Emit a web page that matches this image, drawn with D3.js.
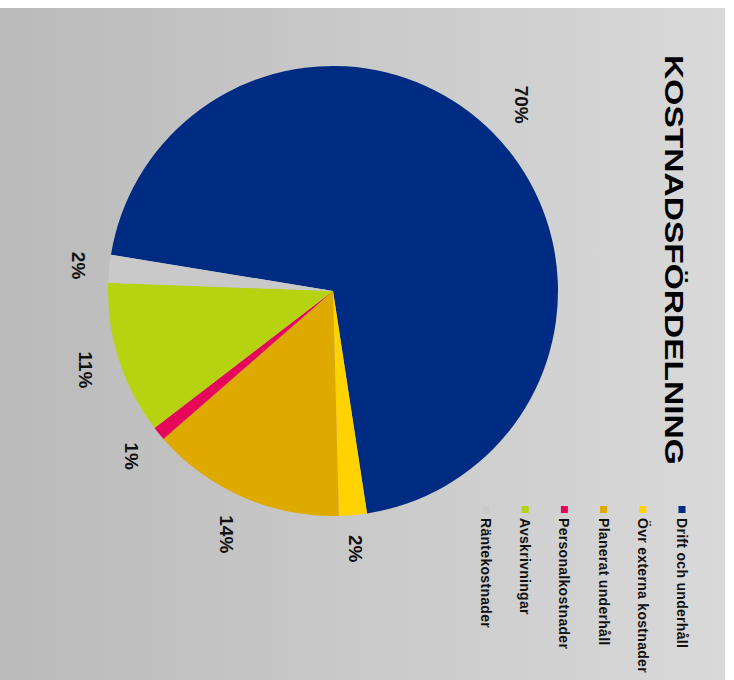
<!DOCTYPE html>
<html>
<head>
<meta charset="utf-8">
<script src="https://cdn.jsdelivr.net/npm/d3@7"></script>
<style>
  body { margin: 0; background: #fff; }
  text { font-family: "Liberation Sans", Arial, sans-serif; }
</style>
</head>
<body>
<div id="container"></div>
<script>
var scene_width = 734, scene_height = 680

// data
var categories = ['Drift och underhåll', 'Övr externa kostnader', 'Planerat underhåll',
                  'Personalkostnader', 'Avskrivningar', 'Räntekostnader']
var values = [70, 2, 14, 1, 11, 2]
var labels = ['70%', '2%', '14%', '1%', '11%', '2%']
var colors = ['#002b82', '#ffd200', '#deaa00', '#e6075a', '#b6d312', '#c9c9c9']
var title = 'KOSTNADSFÖRDELNING'

var center = [333, 291]
var radius = 225

var svg = d3.select('#container').append('svg')
    .attr('width', scene_width)
    .attr('height', scene_height)

var grad = svg.append('defs').append('linearGradient')
    .attr('id', 'bg')
    .attr('x1', '0%').attr('x2', '100%').attr('y1', '0%').attr('y2', '0%')
grad.append('stop').attr('offset', '0%').attr('stop-color', '#bababa')
grad.append('stop').attr('offset', '100%').attr('stop-color', '#d9d9d9')

svg.append('rect')
    .attr('x', 0).attr('y', 8)
    .attr('width', 725).attr('height', scene_height - 8)
    .style('fill', 'url(#bg)')

// pie, the whole picture is turned 90 degrees clockwise
var start = -80.7 * Math.PI / 180
var pie = d3.pie().sort(null).startAngle(start).endAngle(start + 2 * Math.PI)
var arcs = pie(values)
var arc = d3.arc().innerRadius(0).outerRadius(radius)

var g = svg.append('g').attr('transform', 'translate(' + center[0] + ',' + center[1] + ')')

g.selectAll('path.slice')
    .data(arcs)
    .enter().append('path')
    .attr('class', 'slice')
    .attr('d', arc)
    .style('fill', (d, i) => colors[i])

// labels sit outside the pie, pushed out by half their (rotated) box
var gap = 244
g.selectAll('text.pct')
    .data(arcs)
    .enter().append('text')
    .attr('class', 'pct')
    .attr('text-anchor', 'middle')
    .attr('dominant-baseline', 'central')
    .style('font-size', '19px')
    .style('font-weight', 'bold')
    .style('fill', '#111')
    .text((d, i) => labels[i])
    .attr('transform', function(d) {
        var b = this.getBBox()
        var a = (d.startAngle + d.endAngle) / 2
        var ux = Math.sin(a), uy = -Math.cos(a)
        // rotated box: screen width = b.height, screen height = b.width
        var r = gap + Math.abs(ux) * b.height / 2 + Math.abs(uy) * b.width / 2
        return 'translate(' + (ux * r) + ',' + (uy * r) + ') rotate(90)'
    })

// title
svg.append('text')
    .attr('transform', 'translate(674,260) rotate(90) scale(1.29,1)')
    .attr('text-anchor', 'middle')
    .attr('dominant-baseline', 'central')
    .style('font-size', '26px')
    .style('font-weight', 'bold')
    .style('fill', '#000')
    .text(title)

// legend
var legend = svg.append('g')
var item = legend.selectAll('g.item')
    .data(categories)
    .enter().append('g')
    .attr('class', 'item')
    .attr('transform', (d, i) => 'translate(' + (682 - i * 39.2) + ',0)')

item.append('rect')
    .attr('x', -3.5).attr('y', 506)
    .attr('width', 7).attr('height', 7)
    .style('fill', (d, i) => colors[i])

item.append('text')
    .attr('transform', 'translate(0,518) rotate(90)')
    .attr('dominant-baseline', 'central')
    .style('font-size', '14px')
    .style('font-weight', 'bold')
    .style('letter-spacing', '0.3px')
    .style('fill', '#111')
    .text(d => d)
</script>
</body>
</html>
